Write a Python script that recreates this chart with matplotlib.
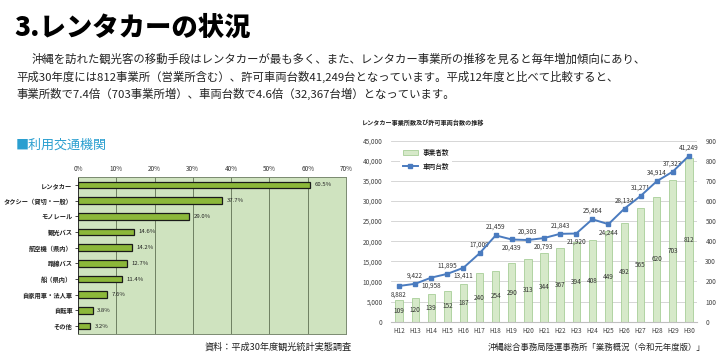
import numpy as np
import matplotlib
matplotlib.use('Agg')
import matplotlib.pyplot as plt
from matplotlib.ticker import FuncFormatter

plt.rcParams['font.family'] = ['Noto Sans CJK JP', 'DejaVu Sans']

# left chart data
modes = ['レンタカー', 'タクシー（貸切・一般）', 'モノレール', '観光バス', '航空機（県内）',
         '路線バス', '船（県内）', '自家用車・法人車', '自転車', 'その他']
mode_share = [60.5, 37.7, 29.0, 14.6, 14.2, 12.7, 11.4, 7.6, 3.8, 3.2]
share_ticks = [0, 10, 20, 30, 40, 50, 60, 70]

# right chart data
years = ['H12', 'H13', 'H14', 'H15', 'H16', 'H17', 'H18', 'H19', 'H20', 'H21',
         'H22', 'H23', 'H24', 'H25', 'H26', 'H27', 'H28', 'H29', 'H30']
offices = [109, 120, 139, 152, 187, 240, 254, 290, 313, 344,
           367, 394, 408, 449, 492, 565, 620, 703, 812]
vehicles = [8882, 9422, 10958, 11895, 13411, 17009, 21459, 20439, 20303, 20793,
            21843, 21920, 25464, 24244, 28134, 31271, 34914, 37323, 41249]

# label placement for the line (1 = above, -1 = below)
label_side = [-1, 1, -1, 1, -1, 1, 1, -1, 1, -1, 1, -1, 1, -1, 1, 1, 1, 1, 1]

W, H = 720, 360
fig = plt.figure(figsize=(7.2, 3.6), dpi=100)
fig.patch.set_facecolor('white')

def fx(px):
    return px / W

def fy(py):
    return 1 - py / H

# header + paragraph
fig.text(fx(14), fy(27), '3.レンタカーの状況', fontsize=19, fontweight='heavy',
         va='center', ha='left', color='black')
para = ['沖縄を訪れた観光客の移動手段はレンタカーが最も多く、また、レンタカー事業所の推移を見ると毎年増加傾向にあり、',
        '平成30年度には812事業所（営業所含む）、許可車両台数41,249台となっています。平成12年度と比べて比較すると、',
        '事業所数で7.4倍（703事業所増）、車両台数で4.6倍（32,367台増）となっています。']
fig.text(fx(32), fy(59), para[0], fontsize=8.2, va='center', ha='left', color='#222222')
fig.text(fx(16), fy(77), para[1], fontsize=8.2, va='center', ha='left', color='#222222')
fig.text(fx(16), fy(94), para[2], fontsize=8.2, va='center', ha='left', color='#222222')

fig.text(fx(16), fy(145), '■利用交通機関', fontsize=9.4, va='center', ha='left', color='#2a9fd0')

# left chart: horizontal bars
ax = fig.add_axes([fx(78), fy(334), fx(346) - fx(78), fy(177) - fy(334)])
ax.set_facecolor('#cfe3bf')
y = np.arange(len(modes))
ax.barh(y, mode_share, height=0.42, color='#8cb83a', edgecolor='#1a1a1a', linewidth=0.9, zorder=3)
for yi, v in zip(y, mode_share):
    ax.text(v + 1.2, yi, f'{v:.1f}%', fontsize=4.3, va='center', ha='left', color='#222222')
ax.set_xlim(0, 70)
ax.set_ylim(len(modes) - 0.5, -0.5)
ax.set_xticks(share_ticks)
ax.set_xticklabels([f'{t}%' for t in share_ticks], fontsize=4.6, color='#333333')
ax.xaxis.tick_top()
ax.tick_params(axis='x', length=0, pad=3)
ax.set_yticks(y)
ax.set_yticklabels(modes, fontsize=4.5, fontweight='bold', color='#222222')
ax.tick_params(axis='y', length=2, pad=2, width=0.5)
ax.grid(axis='x', color='#6f7f62', linewidth=0.7, zorder=1)
for s in ax.spines.values():
    s.set_color('#7a8a70')
    s.set_linewidth(0.7)
ax.spines['left'].set_color('#333333')

fig.text(fx(352), fy(347), '資料：平成30年度観光統計実態調査', fontsize=6.6, va='center', ha='right', color='#222222')

# right chart
fig.text(fx(362), fy(122), 'レンタカー事業所数及び許可車両台数の推移', fontsize=4.4, fontweight='bold',
         va='center', ha='left', color='#222222')

x = np.arange(len(years))
axb = fig.add_axes([fx(391), fy(321.7), fx(697) - fx(391), fy(140.7) - fy(321.7)])
bars = axb.bar(x, offices, width=0.45, color='#d6e9c9', edgecolor='#a8cf98', linewidth=0.6,
               zorder=2, label='事業者数')
for xi, v in zip(x, offices):
    axb.text(xi, v / 2, str(v), fontsize=4.6, ha='center', va='center', color='#333333', zorder=4)
axb.set_ylim(0, 900)
axb.set_yticks(range(0, 901, 100))
axb.set_xlim(-0.5, len(years) - 0.5)
axb.set_xticks(x)
axb.set_xticklabels(years, fontsize=4.6, color='#404040')
axb.grid(axis='y', color='#d0d0d0', linewidth=0.6, zorder=0)
axb.set_axisbelow(True)
for k in ['top', 'left', 'right']:
    axb.spines[k].set_visible(False)
axb.spines['bottom'].set_color('#bfbfbf')

axl = axb.twinx()
# bars axis on the right, line axis on the left
axb.yaxis.set_ticks_position('right')
axb.tick_params(axis='y', left=False, labelleft=False, right=False, labelright=True,
                labelsize=4.6, labelcolor='#404040', length=0, pad=6)
axb.tick_params(axis='x', length=0, pad=4)
axl.yaxis.set_ticks_position('left')
axl.tick_params(axis='y', left=False, labelleft=True, right=False, labelright=False,
                labelsize=4.6, labelcolor='#404040', length=0, pad=6)

line, = axl.plot(x, vehicles, color='#4a7bbf', linewidth=1.4, marker='s', markersize=3.2,
                 zorder=5, label='車両台数')
for xi, v, sd in zip(x, vehicles, label_side):
    axl.annotate(f'{v:,}', (xi, v), xytext=(0, 6 * sd), textcoords='offset points',
                 fontsize=4.6, ha='center', va='center', color='#333333')
axl.set_ylim(0, 45000)
axl.set_yticks(range(0, 45001, 5000))
axl.yaxis.set_major_formatter(FuncFormatter(lambda v, p: f'{int(v):,}'))
for s in axl.spines.values():
    s.set_visible(False)

leg = axl.legend([bars, line], ['事業者数', '車両台数'], loc='upper left',
                 bbox_to_anchor=(0.02, 0.99), fontsize=4.8, frameon=True, framealpha=1,
                 edgecolor='white', handlelength=2.2, borderpad=0.4, labelspacing=0.9)
leg.get_frame().set_linewidth(0)

fig.text(fx(705), fy(347), '沖縄総合事務局陸運事務所「業務概況（令和元年度版）」', fontsize=6.0,
         va='center', ha='right', color='#222222')

fig.savefig('out.png', dpi=100, facecolor='white')
